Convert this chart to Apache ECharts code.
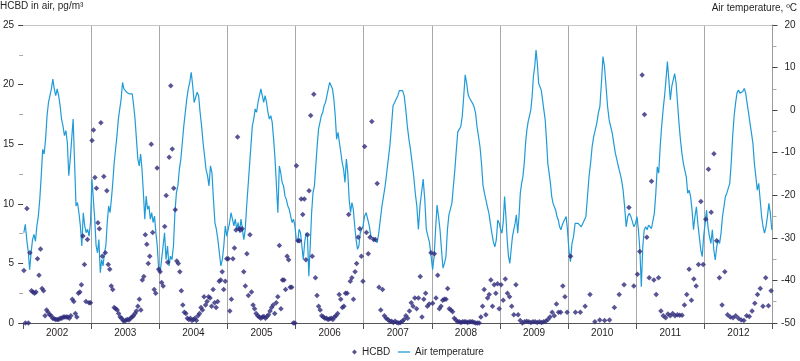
<!DOCTYPE html>
<html>
<head>
<meta charset="utf-8">
<script src="https://cdn.jsdelivr.net/npm/echarts@6/dist/echarts.min.js"></script>
<style>
html,body{margin:0;padding:0;background:#fff;}
#chart{width:800px;height:361px;}
</style>
</head>
<body>
<div id="chart"></div>
<script>
// ---- DATA ----
const years = ['2002','2003','2004','2005','2006','2007','2008','2009','2010','2011','2012'];
const leftTicks = [0, 5, 10, 15, 20, 25];
const rightTicks = [-50, -40, -30, -20, -10, 0, 10, 20];

// Air temperature (°C), roughly weekly values within each year
const temp2002 = [-28.8,-26.8,-30.4,-33.1,-37.5,-33.5,-30.4,-29.2,-30.8,-27.2,-24.9,-20.9,-15.4,-9.2,-10.3,-6.8,-1.3,1.8,3.4,5.0,7.3,5.0,3.4,5.0,3.4,1.1,-2.1,-3.7,-6.0,-4.8,-7.6,-15.4,-11.5,-6.8,-2.1,-12.3,-22.5,-21.7,-24.1,-27.2,-31.9,-24.1,-27.2,-28.8,-28.0,-29.6,-26.4];
const temp2003 = [-16.2,-20.9,-25.6,-31.9,-33.5,-30.4,-38.2,-35.1,-36.6,-33.5,-31.9,-26.4,-22.5,-24.1,-20.9,-17.0,-12.3,-9.2,-6.0,-2.1,0.3,2.6,6.5,5.0,5.4,4.2,4.6,3.8,4.2,3.8,1.1,-2.1,-6.8,-11.5,-13.1,-10.3,-13.9,-19.4,-25.6,-20.2,-23.3,-22.5,-25.6,-24.1,-26.4,-24.9,-28.8,-31.9,-37.4];
const temp2004 = [-38.2,-35.1,-31.9,-28.8,-35.1,-31.9,-36.6,-34.3,-35.1,-31.9,-24.1,-19.4,-17.8,-13.9,-11.5,-7.6,-3.7,-0.5,2.6,5.0,6.5,8.9,5.8,1.8,1.4,4.2,3.4,-0.5,-3.7,-7.6,-10.7,-13.9,-15.4,-17.8,-13.1,-14.7,-20.9,-26.4,-28.0,-30.4,-33.5,-36.6,-35.1,-31.9,-27.2,-29.6];
const temp2005 = [-29.6,-26.4,-24.1,-24.1,-27.2,-25.6,-28.0,-26.4,-28.8,-25.6,-28.0,-30.4,-28.0,-22.5,-17.8,-13.1,-8.4,-3.7,-2.1,0.3,-0.5,1.8,3.4,5.0,5.4,1.8,3.4,1.8,-0.5,-2.1,-1.3,-2.9,-6.8,-11.5,-17.8,-24.1,-13.1,-14.7,-17.0,-17.8,-20.2,-21.0,-22.5,-23.3,-24.9,-26.4,-25.6,-27.2];
const temp2006 = [-30.4,-31.1,-28.0,-28.8,-31.9,-35.1,-31.1,-28.8,-29.6,-39.0,-31.9,-24.1,-19.4,-17.8,-13.1,-8.4,-4.4,-2.9,-1.3,-0.5,1.1,1.8,3.4,5.0,6.5,6.2,5.0,2.6,-1.3,-6.8,-5.2,-7.6,-9.9,-12.3,-13.9,-17.0,-11.5,-14.7,-20.9,-24.1,-21.7,-23.3,-27.2,-30.4,-32.7,-31.9,-28.8,-28.0,-27.2];
const temp2007 = [-24.9,-24.1,-25.6,-27.2,-29.6,-30.0,-30.4,-30.0,-31.1,-28.8,-25.6,-22.5,-20.2,-17.8,-14.7,-11.5,-8.4,-3.7,1.1,1.8,2.6,3.4,4.6,5.0,4.6,3.4,0.3,-3.7,-6.8,-9.2,-12.3,-15.4,-19.4,-22.5,-28.0,-22.5,-19.4,-16.2,-20.9,-28.0,-29.6,-31.1,-34.3];
const temp2008 = [-37.5,-34.4,-28.1,-22.3,-25.0,-28.1,-32.8,-37.1,-36.0,-34.4,-28.1,-24.6,-25.0,-21.9,-18.0,-14.1,-9.4,-5.1,-4.7,-3.9,-1.5,3.2,8.3,6.3,3.6,2.8,2.4,1.6,0.8,-0.7,-3.9,-6.2,-8.6,-12.5,-17.6,-19.5,-21.1,-22.7,-24.2,-26.6,-28.9,-30.9,-32.1,-30.5,-25.8,-26.6];
const temp2009 = [-28.1,-28.9,-26.2,-20.3,-25.0,-30.5,-34.4,-36.0,-32.8,-29.7,-28.1,-26.6,-24.6,-28.9,-25.0,-19.5,-17.2,-15.6,-12.5,-7.8,-4.7,-2.7,-3.1,0.0,3.2,7.9,10.2,14.1,11.0,6.3,5.9,4.7,2.4,0.0,-2.3,-7.0,-12.5,-14.8,-17.2,-20.3,-21.9,-22.7,-23.5,-25.0,-25.8,-27.4,-28.1,-27.0,-26.2,-25.8,-25.0,-28.1];
const temp2010 = [-32.8,-35.6,-31.3,-29.7,-26.6,-26.2,-26.6,-27.0,-27.4,-27.0,-25.8,-25.0,-20.3,-15.6,-12.5,-8.6,-6.2,-4.7,-3.1,-0.7,0.8,6.3,12.6,10.2,5.5,0.8,-2.3,-3.9,-5.4,-7.8,-10.1,-11.7,-13.3,-14.8,-16.4,-18.8,-22.7,-27.4,-25.0,-24.2,-25.0,-26.2,-27.4,-26.6];
const temp2011 = [-25.0,-28.1,-32.8,-41.5,-32.1,-28.1,-27.4,-28.1,-27.0,-27.4,-27.8,-27.4,-24.2,-19.5,-13.3,-14.8,-8.6,-3.9,0.0,3.2,7.1,11.4,7.1,2.4,5.5,7.1,8.6,6.3,1.6,-3.1,-7.0,-10.1,-12.5,-14.1,-15.6,-19.5,-18.8,-20.3,-23.5,-28.1,-25.0,-22.7,-26.6,-29.7,-32.8,-34.4,-29.7];
const temp2012 = [-26.6,-23.5,-27.4,-29.7,-31.3,-28.1,-32.8,-35.2,-32.1,-30.5,-31.3,-28.9,-25.0,-22.7,-20.3,-19.5,-19.5,-17.2,-12.5,-6.2,-1.5,1.6,4.0,4.7,4.0,3.6,4.4,5.1,4.0,1.6,-0.7,-3.1,-5.4,-7.8,-12.5,-15.6,-18.8,-17.2,-21.1,-25.0,-27.4,-28.9,-27.4,-25.0,-21.9,-24.2,-28.1];

// HCBD in air (pg/m3), samples in order within each year
const hcbd2002 = [4.4,0,9.6,0,5.9,2.7,2.6,2.5,2.6,5.4,4.0,6.2,2.9,2.7,0.6,1.1,0.9,0.7,0.6,0.4,0.35,0.3,0.3,0.3,0.4,0.4,0.5,0.5,0.5,0.5,0.4,0.6,2.0,1.8,0.8,0.5,2.5,2.6,3.2,7.3,4.9,1.8,7.0,1.7,1.7];
const hcbd2003 = [15.3,16.2,12.2,11.3,8.4,7.9,16.8,5.6,12.3,5.9,11.1,4.9,4.5,3.1,2.8,1.3,1.2,1.1,0.8,0.5,0.4,0.2,0.15,0.25,0.3,0.25,0.4,0.5,0.6,0.8,1.0,1.4,2.0,1.1,3.6,3.9,7.4,6.6,5.0,5.6,15.0,7.6,2.8,2.5,13.0,4.5];
const hcbd2004 = [4.3,3.4,3.1,8.1,10.7,5.1,13.9,19.9,14.6,11.3,9.5,5.2,5.0,4.3,2.7,1.5,0.9,0.8,0.4,0.3,0.4,0.2,0.3,0.4,0.2,0.6,0.8,1.3,1.1,2.2,1.5,1.8,2.2,2.1,1.4,2.8,1.7,1.3,1.8,3.5,3.6,4.3,2.8,3.5,5.4];
const hcbd2005 = [5.4,1.0,2.0,5.4,6.3,7.8,15.6,7.9,7.8,7.9,4.3,3.1,5.8,2.3,7.4,2.6,1.5,1.2,0.8,0.6,0.5,0.4,0.5,0.55,0.4,0.55,0.7,1.0,1.3,1.5,0.8,1.7,2.2,6.5,1.2,3.6,3.6,2.8,5.6,5.3,3.0,3.0,0,0];
const hcbd2006 = [13.2,6.9,6.9,10.4,9.1,10.4,5.3,7.4,11.1,17.4,5.6,19.2,3.8,2.3,1.4,1.1,0.6,0.5,0.4,0.4,0.3,0.35,0.4,0.3,0.5,0.6,0.8,2.4,2.0,1.3,1.4,2.5,2.5,9.1,3.5,3.8,2.0,4.3,5.0,7.2,7.9,5.6,3.5];
const hcbd2007 = [14.8,7.6,5.8,7.2,16.9,7.0,7.0,11.7,3.0,1.1,2.8,0.6,0.4,0.3,0.15,0.15,0.05,0.15,0.05,0.0,0.05,0.15,0.3,0.6,0.4,1.0,1.7,1.4,2.1,1.2,2.1,3.9,0.5,2.0,2.5,1.4,1.6,5.9];
const hcbd2008 = [1.65,5.8,2.1,4.0,1.2,1.4,1.9,2.0,2.0,2.9,1.2,1.1,0.95,0.4,0.25,0.1,0.1,0.05,0.1,0.1,0.1,0.05,0.1,0.1,0.1,0.05,0.0,0.0,0.0,0.5,1.4,2.8,0.7,2.1,2.4,3.6,1.4,3.2,2.5,3.3,1.2];
const hcbd2009 = [3.2,1.9,3.7,2.5,2.2,1.4,0.7,3.2,0.7,0.2,0.0,0.1,0.15,0.1,0.05,0.1,0.1,0.05,0.1,0.05,0.1,0.15,0.3,0.5,0.9,0.6,1.6,0.9,0.9,3.1,2.2,0.9];
const hcbd2010 = [5.6,0.9,0.9,1.4,2.4,0.1,0.25,0.2,0.25,1.3,2.4,3.2,9.7,3.1];
const hcbd2011 = [4.1,6.0,20.8,17.5,7.2,3.8,11.9,3.6,2.4,3.8,1.0,0.6,0.45,0.75,0.6,0.8,0.6,0.7,0.65,0.65,1.5,2.4,4.5,1.9,3.7,3.1,4.9,10.2,4.9];
const hcbd2012 = [8.7,12.9,9.3,14.2,6.9,3.8,1.5,4.3,0.7,0.5,0.45,0.6,0.4,0.25,0.2,0.6,0.55,1.0,1.65,2.4,2.9,1.4,3.8,1.45,2.7];

// ---- BUILD ----
const tempYears = [temp2002,temp2003,temp2004,temp2005,temp2006,temp2007,temp2008,temp2009,temp2010,temp2011,temp2012];
const hcbdYears = [hcbd2002,hcbd2003,hcbd2004,hcbd2005,hcbd2006,hcbd2007,hcbd2008,hcbd2009,hcbd2010,hcbd2011,hcbd2012];

function spread(perYear) {
  const out = [];
  perYear.forEach((arr, k) => {
    const y0 = Number(years[k]);
    arr.forEach((v, i) => out.push([y0 + (i + 0.5) / arr.length, v]));
  });
  return out;
}
const tempData = spread(tempYears);
const hcbdData = spread(hcbdYears);

const FONT = 'Liberation Sans, Arial, sans-serif';
const TXT = '#231f20';
const yearMin = Number(years[0]);
const yearMax = Number(years[years.length - 1]) + 1;

const chart = echarts.init(document.getElementById('chart'), null, {renderer: 'canvas'});
chart.setOption({
  animation: false,
  backgroundColor: '#fff',
  textStyle: {fontFamily: FONT},
  title: [
    {text: 'HCBD in air, pg/m³', left: 0, top: 1, padding: 0,
     textStyle: {fontSize: 10, fontWeight: 'normal', color: TXT, fontFamily: FONT}},
    {text: 'Air temperature, ºC', right: 3, top: 3, padding: 0,
     textStyle: {fontSize: 10, fontWeight: 'normal', color: TXT, fontFamily: FONT}}
  ],
  legend: [
    {data: [{name: 'HCBD', icon: 'diamond'}], left: 352, top: 347, itemWidth: 5, itemHeight: 5, padding: 0,
     textStyle: {fontSize: 10, color: TXT, fontFamily: FONT}},
    {data: [{name: 'Air temperature', icon: 'rect', itemStyle: {color: '#1f9bd7'}}], left: 398, top: 347, itemWidth: 12, itemHeight: 1.3, padding: 0,
     textStyle: {fontSize: 10, color: TXT, fontFamily: FONT}}
  ],
  grid: {left: 22, right: 27.5, top: 25, bottom: 38, containLabel: false},
  xAxis: [
    {type: 'value', min: yearMin, max: yearMax, interval: 1, position: 'bottom',
     axisLine: {show: true, lineStyle: {color: '#555', width: 1}},
     axisTick: {show: true, length: 6, lineStyle: {color: '#555'}},
     axisLabel: {show: false},
     splitLine: {show: true, showMinLine: false, showMaxLine: false, lineStyle: {color: '#a8a8a8', width: 1}}},
    {type: 'category', data: years, position: 'bottom', boundaryGap: true,
     axisLine: {show: false}, axisTick: {show: false}, splitLine: {show: false},
     axisLabel: {margin: 5, fontSize: 10, color: TXT, fontFamily: FONT}},
    {type: 'value', min: yearMin, max: yearMax, position: 'top',
     axisLine: {show: true, lineStyle: {color: '#c4c4c4', width: 1}},
     axisTick: {show: false}, axisLabel: {show: false}, splitLine: {show: false}}
  ],
  yAxis: [
    {type: 'value', min: leftTicks[0], max: leftTicks[leftTicks.length - 1], interval: 5, position: 'left',
     axisLine: {show: false},
     axisTick: {show: true, length: 5, lineStyle: {color: '#444'}},
     minorTick: {show: true, splitNumber: 2, length: 4, lineStyle: {color: '#aaa'}},
     axisLabel: {margin: 9, fontSize: 10, color: TXT, fontFamily: FONT},
     splitLine: {show: false}},
    {type: 'value', min: rightTicks[0], max: rightTicks[rightTicks.length - 1], interval: 10, position: 'right',
     axisLine: {show: true, lineStyle: {color: '#9a9a9a', width: 1}},
     axisTick: {show: true, length: 5, lineStyle: {color: '#444'}},
     minorTick: {show: true, splitNumber: 2, length: 4, lineStyle: {color: '#aaa'}},
     axisLabel: {margin: 23, align: 'right', fontSize: 10, color: TXT, fontFamily: FONT},
     splitLine: {show: false}}
  ],
  series: [
    {name: 'Air temperature', type: 'line', xAxisIndex: 0, yAxisIndex: 1, data: tempData,
     symbol: 'none', smooth: false, z: 2,
     lineStyle: {color: '#1f9bd7', width: 1.2}, itemStyle: {color: '#1f9bd7'}},
    {name: 'HCBD', type: 'scatter', xAxisIndex: 0, yAxisIndex: 0, data: hcbdData,
     symbol: 'diamond', symbolSize: 5.5, z: 3,
     itemStyle: {color: '#2e2a7a'}}
  ]
});
</script>
</body>
</html>
